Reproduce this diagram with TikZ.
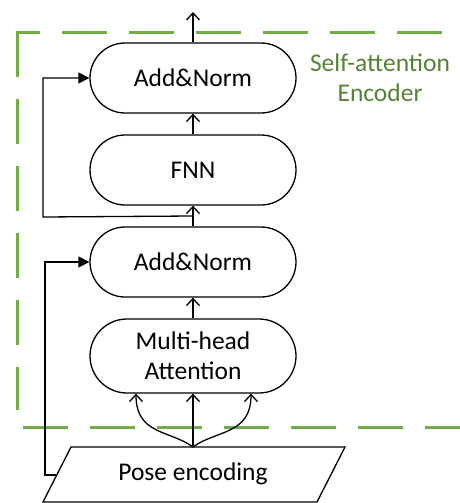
\documentclass[tikz,border=0pt]{standalone}
\usepackage{fontspec}
\setmainfont{Carlito}
\usetikzlibrary{arrows.meta,calc}
\definecolor{encgreen}{RGB}{112,173,71}
\definecolor{labelgreen}{RGB}{84,130,53}

\begin{document}
\begin{tikzpicture}[x=1pt,y=-1pt,
  block/.style={draw,line width=1.3pt,rounded corners=35pt,minimum width=206pt,
    minimum height=70pt,align=center,inner sep=0pt,
    font=\fontsize{25.5}{30}\selectfont},
  flow/.style={line width=1.3pt,-{Straight Barb[length=7pt,width=13pt,line width=1.3pt]}},
  skip/.style={line width=1.3pt,-{Triangle[length=11pt,width=11pt]}},
  frame/.style={encgreen,line width=3pt,dash pattern=on 45pt off 22pt}]
\useasboundingbox (0,0) rectangle (460,503);

% dashed encoder frame
\draw[frame,dash phase=22pt] (17,33) -- (442,33);
\draw[frame] (17,31.5) -- (17,410);
\draw[frame] (23,427) -- (462,427);

% encoder blocks
\node[block] (an1) at (193,78) {Add\&Norm};
\node[block] (fnn) at (193,170) {FNN};
\node[block] (an2) at (193,262) {Add\&Norm};
\node[block,minimum height=74pt,rounded corners=37pt] (mha) at (193,356) {Multi-head\\Attention};

\node[align=center,text=labelgreen,font=\fontsize{25.5}{30}\selectfont] (lbl) at (380,78)
  {Self-attention\\Encoder};

% input parallelogram
\draw[line width=1.3pt] (71,447) -- (345,447) -- (317,502) -- (43,502) -- cycle;
\node[font=\fontsize{25.5}{30}\selectfont] (pose) at (193,474) {Pose encoding};
\coordinate (peTop) at (193,447);
\coordinate (peLeft) at (56,475);

% output
\coordinate (out) at (193,12);
\draw[flow] (an1) -- (out);

% main flow
\draw[flow] (fnn) -- (an1);
\draw[flow] (an2) -- (fnn);
\draw[flow] (mha) -- (an2);

% Q, K, V inputs
\coordinate (inL) at ($(mha.south)+(-57,0)$);
\coordinate (inR) at ($(mha.south)+(58,0)$);
\draw[flow] (peTop) -- (mha.south);
\draw[flow] (peTop) .. controls (170,430) and (136,435) .. (inL);
\draw[flow] (peTop) .. controls (216,430) and (251,435) .. (inR);

% residual connections
\coordinate (split) at ($(an2.north)!0.5!(fnn.south)$);
\draw[skip] (split) -- (43,217) |- (an1.west);
\draw[skip] (peLeft) -- (45,475) |- (an2.west);
\end{tikzpicture}
\end{document}
